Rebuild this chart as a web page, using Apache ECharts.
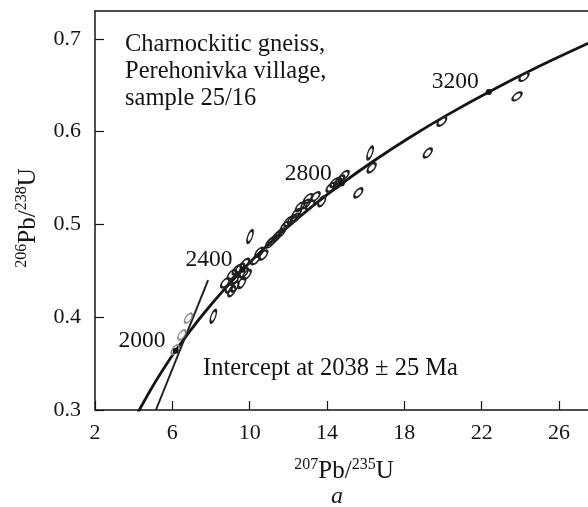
<!DOCTYPE html>
<html><head><meta charset="utf-8">
<script src="https://cdn.jsdelivr.net/npm/echarts@6/dist/echarts.min.js"></script>
<style>html,body{margin:0;padding:0;background:#fff}#c{width:588px;height:507px}</style>
</head><body><div id="c"></div>
<script>
// ---- data ----
const xTicks = [2, 6, 10, 14, 18, 22, 26];
const yTicks = [0.3, 0.4, 0.5, 0.6, 0.7];

// concordia curve (207Pb/235U, 206Pb/238U)
const concordiaX = [4.231, 4.887, 5.496, 6.168, 6.910, 7.729, 8.633, 9.630, 10.730, 11.944, 13.283, 14.762, 16.393, 18.193, 20.180, 22.370, 24.791, 27.460, 28.896];
const concordiaY = [0.2977, 0.3221, 0.3428, 0.3638, 0.3851, 0.4067, 0.4287, 0.4511, 0.4738, 0.4968, 0.5202, 0.5440, 0.5681, 0.5926, 0.6175, 0.6428, 0.6685, 0.6946, 0.7077];

// short discordia segment
const discordiaX = [5.15, 7.85];
const discordiaY = [0.300, 0.440];

// concordia age marks
const ageLabels = ['2000', '2400', '2800', '3200'];
const ageX = [6.168, 9.630, 14.762, 22.370];
const ageY = [0.3638, 0.4511, 0.5440, 0.6428];

// analysed spots (error ellipses): x, y, ellipse orientation (deg)
const spotX = [6.14, 6.49, 6.83, 8.12, 8.73, 9.07, 9.07, 9.24, 9.50, 9.59, 9.85, 9.33, 10.02, 9.76, 10.30, 10.71, 11.05, 11.40, 11.83, 12.00, 12.35, 12.43, 12.61, 13.03, 13.12, 13.40, 13.73, 14.40, 14.67, 14.90, 15.62, 16.23, 16.31, 19.21, 19.94, 23.83, 24.19,
  9.20, 9.70, 10.50, 11.20, 11.60, 12.20, 12.90, 14.20, 14.55, 8.95];
const spotY = [0.365, 0.381, 0.399, 0.401, 0.437, 0.446, 0.428, 0.433, 0.453, 0.437, 0.446, 0.451, 0.487, 0.458, 0.462, 0.467, 0.480, 0.487, 0.498, 0.503, 0.507, 0.512, 0.519, 0.528, 0.521, 0.530, 0.525, 0.545, 0.548, 0.553, 0.534, 0.577, 0.561, 0.577, 0.611, 0.638, 0.659,
  0.440, 0.448, 0.470, 0.483, 0.491, 0.505, 0.522, 0.540, 0.543, 0.432];
const spotAngle = [55, 55, 55, 70, 50, 50, 60, 60, 50, 60, 50, 50, 70, 50, 50, 50, 50, 50, 50, 50, 45, 45, 45, 45, 45, 45, 60, 45, 45, 45, 50, 70, 50, 50, 45, 40, 40,
  55, 50, 50, 45, 45, 45, 45, 45, 45, 60];
const greySpots = [0, 1, 2];

// ---- chart ----
const serif = '"Liberation Serif","DejaVu Serif",serif';
const ink = '#141414';
const chart = echarts.init(document.getElementById('c'), null, {renderer: 'canvas'});
const ellipse = 'path://M0,1A1,1,0,1,1,2,1A1,1,0,1,1,0,1Z';

const spots = spotX.map((x, i) => ({
  value: [x, spotY[i]],
  symbolRotate: spotAngle[i],
  symbolSize: spotAngle[i] >= 70 ? [13, 4.5] : [11, 5.5],
  itemStyle: greySpots.includes(i) ? {borderColor: '#8a8a8a', borderWidth: 1.6} : {}
}));

chart.setOption({
  animation: false,
  backgroundColor: '#fff',
  grid: {left: 95, top: 11, right: 0, bottom: 97, containLabel: false},
  xAxis: [{
    type: 'value', min: 2, max: 27.5, position: 'bottom',
    axisLine: {show: true, onZero: false, lineStyle: {color: ink, width: 1.5}},
    axisTick: {show: true, inside: true, length: 9, customValues: xTicks, lineStyle: {color: ink, width: 1.2}},
    axisLabel: {customValues: xTicks, margin: 12, color: ink, fontFamily: serif, fontSize: 22},
    splitLine: {show: false}
  }, {
    type: 'value', min: 2, max: 27.5, position: 'top',
    axisLine: {show: true, onZero: false, lineStyle: {color: ink, width: 1.5}},
    axisTick: {show: false}, axisLabel: {show: false}, splitLine: {show: false}
  }],
  yAxis: {
    type: 'value', min: 0.3, max: 0.73,
    axisLine: {show: true, onZero: false, lineStyle: {color: ink, width: 1.5}},
    axisTick: {show: true, inside: true, length: 9, customValues: yTicks, lineStyle: {color: ink, width: 1.2}},
    axisLabel: {customValues: yTicks, margin: 14, color: ink, fontFamily: serif, fontSize: 22,
      formatter: v => v.toFixed(1)},
    splitLine: {show: false}
  },
  series: [{
    type: 'line', name: 'concordia',
    data: concordiaX.map((x, i) => [x, concordiaY[i]]),
    showSymbol: false, smooth: 0.3, clip: true,
    lineStyle: {color: ink, width: 2.8}
  }, {
    type: 'line', name: 'discordia',
    data: discordiaX.map((x, i) => [x, discordiaY[i]]),
    showSymbol: false, clip: true,
    lineStyle: {color: '#222', width: 2}
  }, {
    type: 'scatter', name: 'spots',
    data: spots, symbol: ellipse,
    itemStyle: {color: 'rgba(0,0,0,0)', borderColor: '#222', borderWidth: 2.1, opacity: 1},
    z: 3
  }, {
    type: 'scatter', name: 'ages',
    data: ageX.map((x, i) => ({value: [x, ageY[i]], name: ageLabels[i]})),
    symbol: 'circle', symbolSize: 6,
    itemStyle: {color: ink, opacity: 1},
    label: {show: true, position: 'left', distance: 7, offset: [0, -10], opacity: 1,
      formatter: p => p.name, color: ink, fontFamily: serif, fontSize: 23.5},
    z: 4
  }],
  graphic: [{
    type: 'text', left: 125, top: 31,
    style: {text: 'Charnockitic gneiss,\nPerehonivka village,\nsample 25/16',
      font: '24.5px ' + serif, fill: ink, lineHeight: 27}
  }, {
    type: 'text', x: 203, y: 368.5,
    style: {text: 'Intercept at 2038 ± 25 Ma', font: '24.5px ' + serif, fill: ink,
      align: 'left', verticalAlign: 'middle'}
  }, {
    type: 'text', x: 344, y: 471,
    style: {text: '{s|207}{m|Pb/}{s|235}{m|U}', align: 'center', verticalAlign: 'middle', fill: ink,
      rich: {s: {fontSize: 16, fontFamily: serif, lineHeight: 16, verticalAlign: 'top', fill: ink},
             m: {fontSize: 25, fontFamily: serif, lineHeight: 28, fill: ink}}}
  }, {
    type: 'text', x: 28, y: 218, rotation: Math.PI / 2,
    style: {text: '{s|206}{m|Pb/}{s|238}{m|U}', align: 'center', verticalAlign: 'middle', fill: ink,
      rich: {s: {fontSize: 16, fontFamily: serif, lineHeight: 16, verticalAlign: 'top', fill: ink},
             m: {fontSize: 25, fontFamily: serif, lineHeight: 28, fill: ink}}}
  }, {
    type: 'text', x: 337, y: 497,
    style: {text: 'a', font: 'italic 24px ' + serif, fill: ink, align: 'center', verticalAlign: 'middle'}
  }]
});
</script>
</body></html>
